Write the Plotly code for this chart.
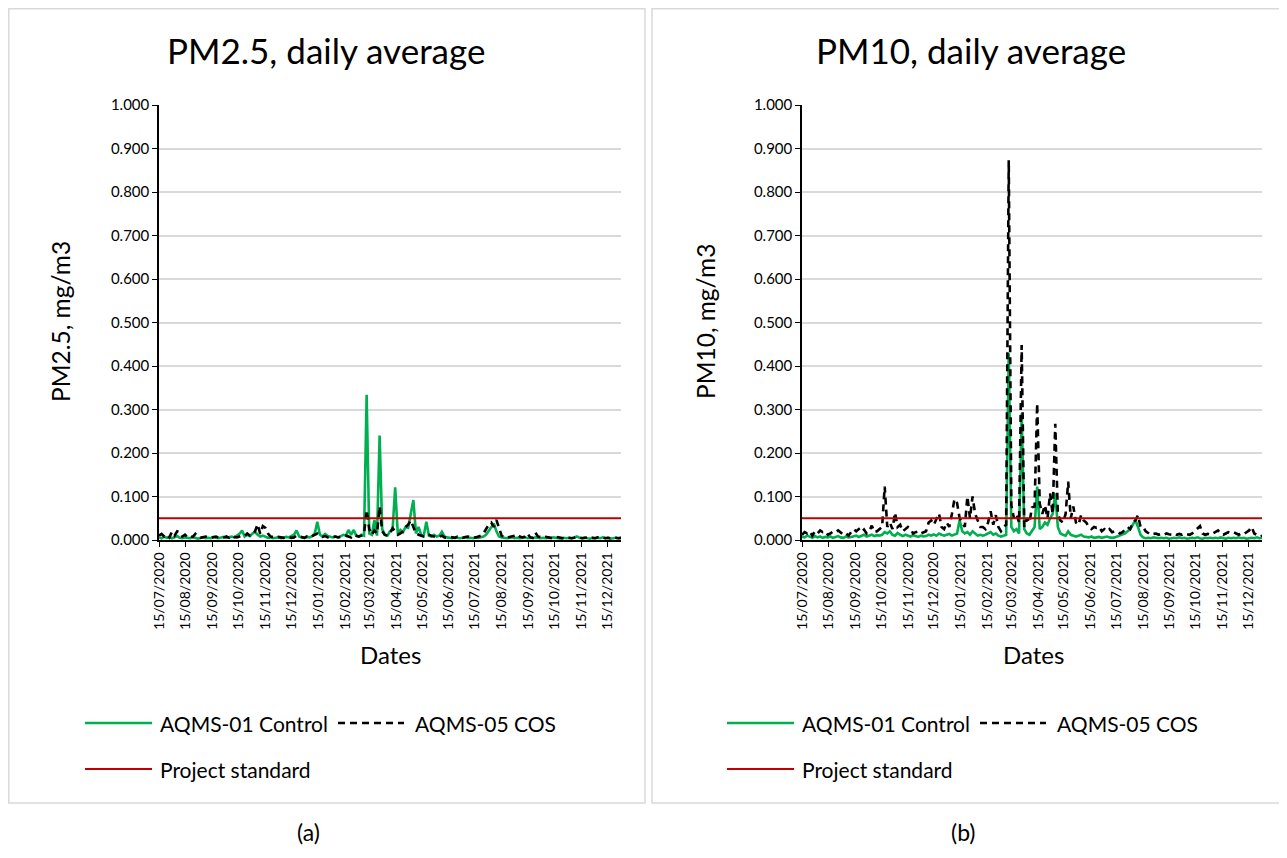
import pandas as pd
import plotly.graph_objects as go

# ---------------- data (3-day sampling, from 15/07/2020) ----------------
START_DATE = "2020-07-15"
END_DATE = "2021-12-31"
N_POINTS = 179
STEP = "3D"

PM25_CONTROL = [
    0.006, 0.004, 0.008, 0.005, 0.007, 0.004, 0.006, 0.009, 0.005, 0.004,
    0.006, 0.005, 0.004, 0.007, 0.005, 0.003, 0.005, 0.006, 0.004, 0.005,
    0.004, 0.006, 0.005, 0.004, 0.006, 0.007, 0.005, 0.006, 0.008, 0.006,
    0.010, 0.014, 0.022, 0.008, 0.012, 0.009, 0.015, 0.018, 0.012, 0.008,
    0.010, 0.007, 0.005, 0.006, 0.004, 0.005, 0.006, 0.004, 0.005, 0.007,
    0.006, 0.009, 0.012, 0.022, 0.008, 0.006, 0.005, 0.007, 0.006, 0.009,
    0.015, 0.042, 0.012, 0.008, 0.014, 0.009, 0.007, 0.006, 0.008, 0.006,
    0.009, 0.012, 0.010, 0.023, 0.012, 0.023, 0.010, 0.008, 0.012, 0.010,
    0.334, 0.015, 0.012, 0.046, 0.010, 0.240, 0.025, 0.012, 0.010, 0.020,
    0.025, 0.121, 0.014, 0.023, 0.018, 0.030, 0.028, 0.057, 0.092, 0.015,
    0.030, 0.012, 0.010, 0.042, 0.010, 0.008, 0.012, 0.008, 0.010, 0.019,
    0.008, 0.006, 0.005, 0.004, 0.006, 0.005, 0.004, 0.005, 0.006, 0.004,
    0.005, 0.004, 0.006, 0.005, 0.006, 0.008, 0.012, 0.020, 0.030, 0.038,
    0.020, 0.008, 0.006, 0.005, 0.004, 0.005, 0.006, 0.004, 0.005, 0.004,
    0.005, 0.006, 0.004, 0.005, 0.004, 0.006, 0.005, 0.004, 0.005, 0.004,
    0.005, 0.004, 0.006, 0.005, 0.004, 0.003, 0.005, 0.004, 0.005, 0.004,
    0.006, 0.008, 0.005, 0.004, 0.005, 0.004, 0.003, 0.005, 0.004, 0.005,
    0.004, 0.006, 0.004, 0.005, 0.003, 0.004, 0.005, 0.004, 0.005,
]

PM25_COS = [
    0.010, 0.014, 0.008, 0.012, 0.006, 0.019, 0.010, 0.020, 0.018, 0.008,
    0.012, 0.006, 0.009, 0.007, 0.014, 0.008, 0.005, 0.007, 0.008, 0.006,
    0.005, 0.007, 0.008, 0.005, 0.004, 0.006, 0.008, 0.005, 0.010, 0.007,
    0.006, 0.008, 0.010, 0.009, 0.015, 0.010, 0.012, 0.020, 0.036, 0.014,
    0.032, 0.028, 0.015, 0.008, 0.006, 0.005, 0.007, 0.006, 0.005, 0.006,
    0.007, 0.005, 0.006, 0.010, 0.008, 0.006, 0.005, 0.008, 0.006, 0.009,
    0.012, 0.015, 0.010, 0.007, 0.009, 0.006, 0.008, 0.007, 0.008, 0.006,
    0.007, 0.009, 0.010, 0.008, 0.006, 0.012, 0.010, 0.008, 0.010, 0.014,
    0.069, 0.025, 0.012, 0.022, 0.015, 0.077, 0.020, 0.012, 0.010, 0.015,
    0.027, 0.020, 0.012, 0.015, 0.020, 0.030, 0.035, 0.045, 0.030, 0.015,
    0.012, 0.010, 0.008, 0.012, 0.012, 0.010, 0.008, 0.006, 0.007, 0.010,
    0.006, 0.005, 0.007, 0.006, 0.005, 0.008, 0.006, 0.005, 0.007, 0.008,
    0.007, 0.005, 0.006, 0.008, 0.010, 0.015, 0.025, 0.035, 0.040, 0.030,
    0.046, 0.025, 0.010, 0.006, 0.005, 0.007, 0.008, 0.010, 0.013, 0.008,
    0.006, 0.008, 0.015, 0.006, 0.005, 0.017, 0.008, 0.006, 0.005, 0.007,
    0.006, 0.005, 0.004, 0.007, 0.006, 0.005, 0.004, 0.006, 0.005, 0.004,
    0.005, 0.007, 0.006, 0.004, 0.005, 0.006, 0.004, 0.005, 0.004, 0.006,
    0.005, 0.006, 0.004, 0.005, 0.004, 0.006, 0.005, 0.004, 0.005,
]

PM10_CONTROL = [
    0.008, 0.006, 0.010, 0.007, 0.005, 0.009, 0.006, 0.008, 0.005, 0.007,
    0.006, 0.008, 0.005, 0.007, 0.009, 0.006, 0.005, 0.008, 0.006, 0.007,
    0.008, 0.010, 0.007, 0.009, 0.012, 0.008, 0.010, 0.012, 0.009, 0.011,
    0.010, 0.012, 0.018, 0.015, 0.020, 0.012, 0.010, 0.016, 0.012, 0.009,
    0.012, 0.010, 0.008, 0.011, 0.009, 0.007, 0.010, 0.008, 0.009, 0.012,
    0.010, 0.013, 0.010, 0.015, 0.012, 0.010, 0.012, 0.014, 0.010, 0.012,
    0.015, 0.046, 0.020, 0.015, 0.018, 0.012, 0.020, 0.015, 0.010, 0.012,
    0.010, 0.012, 0.015, 0.018, 0.012, 0.015, 0.010, 0.008, 0.010, 0.012,
    0.429, 0.030, 0.020, 0.025, 0.015, 0.291, 0.025, 0.015, 0.012, 0.020,
    0.030, 0.123, 0.025, 0.030, 0.040, 0.035, 0.050, 0.060, 0.107, 0.030,
    0.015, 0.012, 0.010, 0.020, 0.012, 0.010, 0.008, 0.010, 0.012, 0.008,
    0.007, 0.006, 0.008, 0.005, 0.006, 0.007, 0.005, 0.006, 0.008, 0.006,
    0.005, 0.006, 0.008, 0.010, 0.012, 0.015, 0.020, 0.025, 0.035, 0.046,
    0.030, 0.012, 0.006, 0.004, 0.005, 0.004, 0.006, 0.005, 0.004, 0.005,
    0.004, 0.005, 0.003, 0.004, 0.005, 0.004, 0.006, 0.004, 0.005, 0.003,
    0.004, 0.005, 0.004, 0.006, 0.004, 0.003, 0.005, 0.004, 0.005, 0.004,
    0.005, 0.004, 0.006, 0.004, 0.003, 0.005, 0.004, 0.005, 0.004, 0.006,
    0.004, 0.005, 0.003, 0.004, 0.005, 0.004, 0.006, 0.004, 0.005,
]

PM10_COS = [
    0.012, 0.018, 0.015, 0.020, 0.010, 0.020, 0.015, 0.022, 0.018, 0.020,
    0.012, 0.015, 0.020, 0.018, 0.022, 0.016, 0.012, 0.015, 0.010, 0.018,
    0.025, 0.020, 0.025, 0.018, 0.024, 0.015, 0.020, 0.033, 0.018, 0.020,
    0.025, 0.030, 0.123, 0.030, 0.040, 0.025, 0.063, 0.030, 0.035, 0.020,
    0.025, 0.030, 0.025, 0.015, 0.018, 0.020, 0.015, 0.018, 0.020, 0.040,
    0.045, 0.035, 0.050, 0.061, 0.030, 0.025, 0.040, 0.030, 0.060, 0.094,
    0.085, 0.050, 0.040, 0.030, 0.100, 0.050, 0.100, 0.060, 0.045, 0.030,
    0.030, 0.025, 0.040, 0.066, 0.035, 0.057, 0.030, 0.020, 0.030, 0.035,
    0.873, 0.080, 0.050, 0.060, 0.040, 0.448, 0.030, 0.050, 0.040, 0.075,
    0.077, 0.314, 0.083, 0.060, 0.080, 0.050, 0.107, 0.060, 0.267, 0.060,
    0.045, 0.040, 0.060, 0.134, 0.050, 0.077, 0.040, 0.035, 0.057, 0.045,
    0.040, 0.030, 0.025, 0.030, 0.028, 0.030, 0.020, 0.025, 0.020, 0.025,
    0.018, 0.020, 0.020, 0.015, 0.018, 0.025, 0.030, 0.025, 0.040, 0.045,
    0.057, 0.030, 0.030, 0.020, 0.015, 0.012, 0.014, 0.015, 0.012, 0.014,
    0.012, 0.015, 0.013, 0.012, 0.015, 0.012, 0.014, 0.012, 0.015, 0.013,
    0.012, 0.015, 0.020, 0.025, 0.032, 0.015, 0.012, 0.014, 0.012, 0.015,
    0.018, 0.022, 0.015, 0.012, 0.015, 0.018, 0.016, 0.018, 0.015, 0.012,
    0.015, 0.013, 0.018, 0.022, 0.030, 0.015, 0.012, 0.008, 0.010,
]

PROJECT_STANDARD = 0.05

TICK_DATES = [
    "2020-07-15", "2020-08-15", "2020-09-15", "2020-10-15", "2020-11-15", "2020-12-15",
    "2021-01-15", "2021-02-15", "2021-03-15", "2021-04-15", "2021-05-15", "2021-06-15",
    "2021-07-15", "2021-08-15", "2021-09-15", "2021-10-15", "2021-11-15", "2021-12-15",
]
TICK_LABELS = [
    "15/07/2020", "15/08/2020", "15/09/2020", "15/10/2020", "15/11/2020", "15/12/2020",
    "15/01/2021", "15/02/2021", "15/03/2021", "15/04/2021", "15/05/2021", "15/06/2021",
    "15/07/2021", "15/08/2021", "15/09/2021", "15/10/2021", "15/11/2021", "15/12/2021",
]
Y_TICKS = [0.0, 0.1, 0.2, 0.3, 0.4, 0.5, 0.6, 0.7, 0.8, 0.9, 1.0]

SERIES_NAMES = ["AQMS-01 Control", "AQMS-05 COS", "Project standard"]
TITLES = ["PM2.5, daily average", "PM10, daily average"]
Y_TITLES = ["PM2.5, mg/m3", "PM10, mg/m3"]
X_TITLE = "Dates"
PANEL_LABELS = ["(a)", "(b)"]

# ---------------- figure ----------------
# the page body has an 8px margin, so the figure is drawn 8px smaller and all
# page positions below are converted by subtracting that offset
OFFSET = 8
W, H = 1287 - OFFSET, 858 - OFFSET
FONT = "Lato"
GREEN = "#00b050"
RED = "#c00000"

dates = pd.date_range(START_DATE, periods=N_POINTS, freq=STEP)


def px(x):
    return (x - OFFSET) / W


def py(y):
    return 1 - (y - OFFSET) / H


fig = go.Figure()

panels = [
    dict(xa="x", ya="y", control=PM25_CONTROL, cos=PM25_COS),
    dict(xa="x2", ya="y2", control=PM10_CONTROL, cos=PM10_COS),
]
for p in panels:
    fig.add_trace(go.Scatter(x=dates, y=p["control"], mode="lines", name=SERIES_NAMES[0],
                             line=dict(color=GREEN, width=2.6), xaxis=p["xa"], yaxis=p["ya"],
                             showlegend=False))
    fig.add_trace(go.Scatter(x=dates, y=p["cos"], mode="lines", name=SERIES_NAMES[1],
                             line=dict(color="black", width=2.6, dash="7px,5px"),
                             xaxis=p["xa"], yaxis=p["ya"], showlegend=False))
    fig.add_trace(go.Scatter(x=[START_DATE, END_DATE], y=[PROJECT_STANDARD, PROJECT_STANDARD],
                             mode="lines", name=SERIES_NAMES[2],
                             line=dict(color=RED, width=2.2), xaxis=p["xa"], yaxis=p["ya"],
                             showlegend=False))

# plot-area geometry (page pixels)
left_plot = (159, 621)
right_plot = (802, 1262)
plot_top, plot_bottom = 105, 540

xcommon = dict(type="date", range=[START_DATE, END_DATE], tickvals=TICK_DATES, ticktext=TICK_LABELS,
               tickangle=-90, tickfont=dict(family=FONT, size=14, color="black"),
               showgrid=False, showline=True, linecolor="black", linewidth=1.5,
               ticks="outside", ticklen=5, tickcolor="black", tickwidth=1.2,
               zeroline=False, fixedrange=True, automargin=False)
ycommon = dict(range=[0, 1.0], tickvals=Y_TICKS, tickformat=".3f",
               tickfont=dict(family=FONT, size=15, color="black"),
               showgrid=True, gridcolor="#d9d9d9", gridwidth=1.5,
               showline=True, linecolor="black", linewidth=1.5,
               ticks="outside", ticklen=5, tickcolor="black", tickwidth=1.2,
               zeroline=False, fixedrange=True, automargin=False)

fig.update_layout(
    width=W, height=H, margin=dict(l=0, r=0, t=0, b=0, pad=0), autosize=False,
    paper_bgcolor="white", plot_bgcolor="white",
    xaxis=dict(xcommon, domain=[px(left_plot[0]), px(left_plot[1])], anchor="y"),
    xaxis2=dict(xcommon, domain=[px(right_plot[0]), px(right_plot[1])], anchor="y2"),
    yaxis=dict(ycommon, domain=[py(plot_bottom), py(plot_top)], anchor="x"),
    yaxis2=dict(ycommon, domain=[py(plot_bottom), py(plot_top)], anchor="x2"),
    showlegend=False,
)

shapes = []
annotations = []
# panel borders
for (x0, x1) in [(8.8, 645), (652, 1280)]:
    shapes.append(dict(type="rect", xref="paper", yref="paper", x0=px(x0), x1=px(x1),
                       y0=py(803), y1=py(8.8), line=dict(color="#d9d9d9", width=1.5)))

title_centers = [326, 971]
label_centers = [308, 963]
ytitle_x = [60, 705]
xtitle_x = [390, 1033]
for k in range(2):
    annotations.append(dict(text=TITLES[k], x=px(title_centers[k]), y=py(50), xref="paper", yref="paper",
                            showarrow=False, xanchor="center", yanchor="middle",
                            font=dict(family=FONT, size=35, color="black")))
    annotations.append(dict(text=Y_TITLES[k], x=px(ytitle_x[k]), y=py(322), xref="paper", yref="paper",
                            showarrow=False, xanchor="center", yanchor="middle", textangle=-90,
                            font=dict(family=FONT, size=24.5, color="black")))
    annotations.append(dict(text=X_TITLE, x=px(xtitle_x[k]), y=py(654), xref="paper", yref="paper",
                            showarrow=False, xanchor="center", yanchor="middle",
                            font=dict(family=FONT, size=24, color="black")))
    annotations.append(dict(text=PANEL_LABELS[k], x=px(label_centers[k]), y=py(832), xref="paper",
                            yref="paper", showarrow=False, xanchor="center", yanchor="middle",
                            font=dict(family=FONT, size=23, color="black")))
    off = 642 * k
    # legend samples
    shapes.append(dict(type="line", xref="paper", yref="paper", x0=px(85 + off), x1=px(152 + off),
                       y0=py(723), y1=py(723), line=dict(color=GREEN, width=2.6)))
    shapes.append(dict(type="line", xref="paper", yref="paper", x0=px(338 + off), x1=px(404 + off),
                       y0=py(723), y1=py(723), line=dict(color="black", width=2.6, dash="7px,5px")))
    shapes.append(dict(type="line", xref="paper", yref="paper", x0=px(85 + off), x1=px(152 + off),
                       y0=py(769), y1=py(769), line=dict(color=RED, width=2.2)))
    for name, lx, ly in [(SERIES_NAMES[0], 158, 723), (SERIES_NAMES[1], 413, 723), (SERIES_NAMES[2], 158, 769)]:
        annotations.append(dict(text=name, x=px(lx + off), y=py(ly), xref="paper", yref="paper",
                                showarrow=False, xanchor="left", yanchor="middle",
                                font=dict(family=FONT, size=21, color="black")))

fig.update_layout(shapes=shapes, annotations=annotations)

fig.write_html("out.html")
